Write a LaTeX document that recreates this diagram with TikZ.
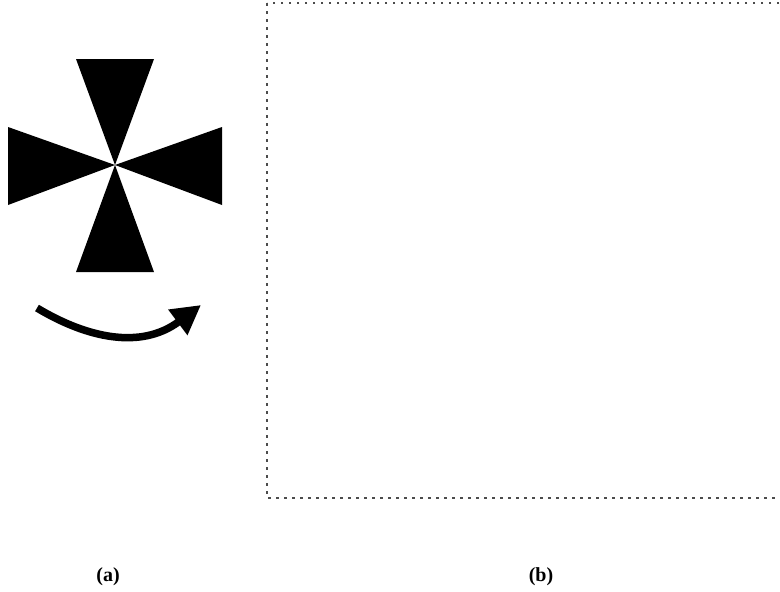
\documentclass[tikz,border=0pt]{standalone}
\usepackage{fontspec}
\setmainfont{Liberation Serif}
\usetikzlibrary{arrows.meta}
\begin{document}
\begin{tikzpicture}[x=1pt,y=-1pt,
  blade/.style={fill=black,draw=none},
  framebox/.style={draw=black!70,line width=1.3pt,dash pattern=on 2.5pt off 5.5pt},
  caption/.style={font=\bfseries\fontsize{20}{24}\selectfont,inner sep=0pt}]
\useasboundingbox (0,0) rectangle (780,592);
\clip (0,0) rectangle (780,592);
\coordinate (c) at (115,165);
% cross blades
\fill[blade] (c) -- (76,59) -- (154,59) -- cycle;
\fill[blade] (c) -- (76,272) -- (154,272) -- cycle;
\fill[blade] (c) -- (8,127) -- (8,205) -- cycle;
\fill[blade] (c) -- (222,127) -- (222,205) -- cycle;
% rotation arrow
\coordinate (as) at (37,308);
\coordinate (ae) at (201,305);
\draw[line width=7.5pt,-{Triangle[length=29pt,width=30pt]}] (as) .. controls (87,338) and (141,350) .. (ae);
% dotted frame
\draw[framebox] (267,3) rectangle (800,498);
% captions
\node[caption] (la) at (108,577) {(a)};
\node[caption] (lb) at (541,577) {(b)};
\end{tikzpicture}
\end{document}
